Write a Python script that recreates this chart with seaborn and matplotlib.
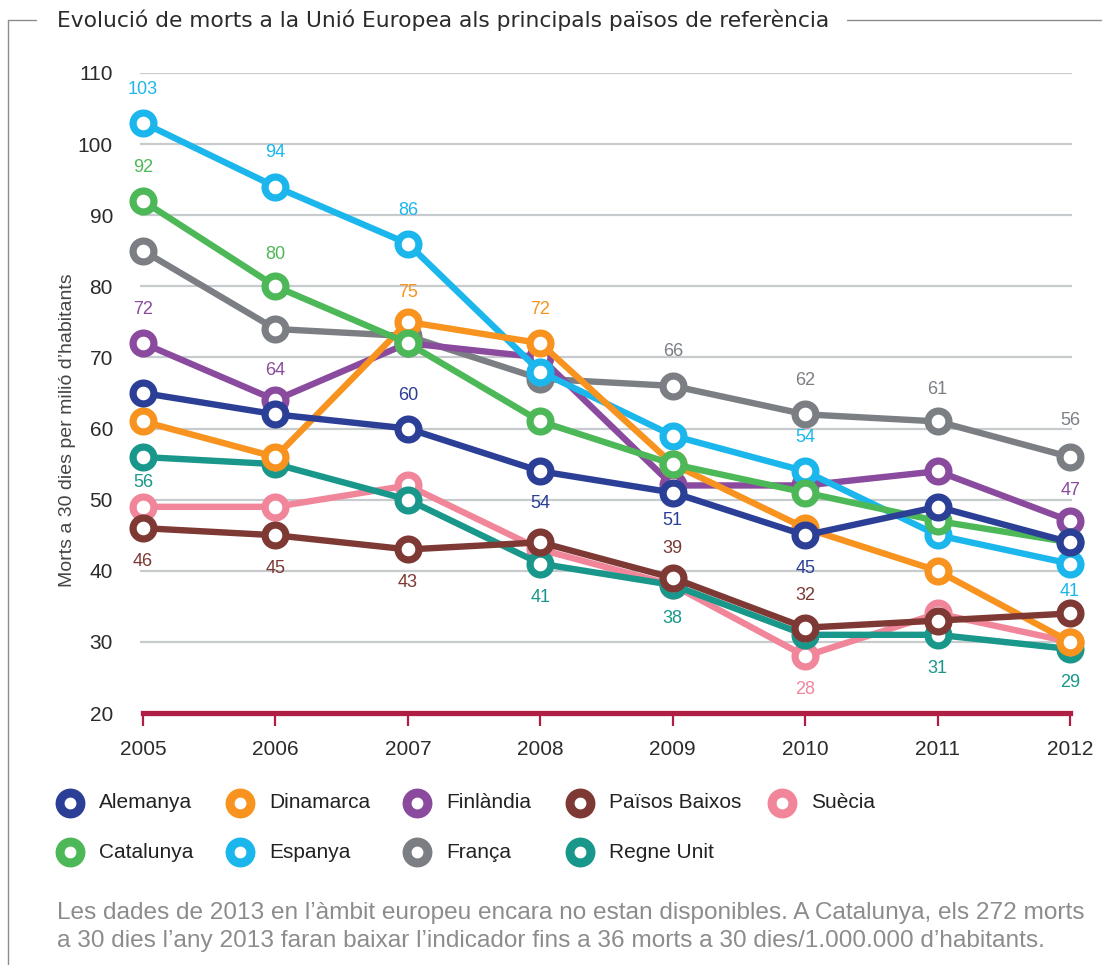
import matplotlib
matplotlib.use("Agg")
import matplotlib.pyplot as plt
import pandas as pd
import seaborn as sns
from matplotlib.lines import Line2D

# ---- data -----------------------------------------------------------------
years = [2005, 2006, 2007, 2008, 2009, 2010, 2011, 2012]

alemanya = [65, 62, 60, 54, 51, 45, 49, 44]
dinamarca = [61, 56, 75, 72, 55, 46, 40, 30]
finlandia = [72, 64, 72, 70, 52, 52, 54, 47]
paisos_baixos = [46, 45, 43, 44, 39, 32, 33, 34]
suecia = [49, 49, 52, 43, 38, 28, 34, 30]
catalunya = [92, 80, 72, 61, 55, 51, 47, 44]
espanya = [103, 94, 86, 68, 59, 54, 45, 41]
franca = [85, 74, 73, 67, 66, 62, 61, 56]
regne_unit = [56, 55, 50, 41, 38, 31, 31, 29]

countries = ["Alemanya", "Dinamarca", "Finlàndia", "Països Baixos", "Suècia",
             "Catalunya", "Espanya", "França", "Regne Unit"]
series = [alemanya, dinamarca, finlandia, paisos_baixos, suecia,
          catalunya, espanya, franca, regne_unit]

y_ticks = [20, 30, 40, 50, 60, 70, 80, 90, 100, 110]

title = "Evolució de morts a la Unió Europea als principals països de referència"
y_title = "Morts a 30 dies per milió d’habitants"
footnote = ("Les dades de 2013 en l’àmbit europeu encara no estan disponibles. A Catalunya, els 272 morts\n"
            "a 30 dies l’any 2013 faran baixar l’indicador fins a 36 morts a 30 dies/1.000.000 d’habitants.")

# ---- styling --------------------------------------------------------------
colors = {
    "Alemanya": "#2c3f97",
    "Dinamarca": "#f7931e",
    "Finlàndia": "#8a4a9e",
    "Països Baixos": "#7e3934",
    "Suècia": "#f1869a",
    "Catalunya": "#4db857",
    "Espanya": "#1bb6ec",
    "França": "#7b7f84",
    "Regne Unit": "#1a978b",
}
# drawing order (higher on top)
zorders = {"França": 3, "Finlàndia": 4, "Espanya": 5, "Suècia": 6, "Regne Unit": 7,
           "Dinamarca": 8, "Catalunya": 9, "Països Baixos": 10, "Alemanya": 11}

# labelled points: year -> vertical offset of the value text, in points
value_labels = {
    "Espanya": {2005: 24, 2006: 25, 2007: 24, 2010: 24, 2012: -20},
    "Catalunya": {2005: 24, 2006: 23},
    "Finlàndia": {2005: 24, 2006: 21, 2012: 22},
    "Dinamarca": {2007: 21, 2008: 24},
    "Alemanya": {2007: 24, 2008: -23, 2009: -20, 2010: -24},
    "Regne Unit": {2005: -18, 2008: -24, 2009: -24, 2011: -24, 2012: -24},
    "Països Baixos": {2005: -24, 2006: -24, 2007: -24, 2009: 21, 2010: 23},
    "Suècia": {2010: -24},
    "França": {2009: 25, 2010: 24, 2011: 23, 2012: 26},
}

SANS = ["Liberation Sans", "DejaVu Sans"]
CRIMSON = "#b01e45"
TEXT = "#2b2b2b"

sns.set_style("white")
plt.rcParams["font.family"] = SANS

df = pd.DataFrame({
    "any": years * len(countries),
    "valor": [v for s in series for v in s],
    "pais": [c for c in countries for _ in years],
})

fig = plt.figure(figsize=(11.18, 9.65), dpi=100)
ax = fig.add_axes([0.1252, 0.2611, 0.8337, 0.6633])

for name in countries:
    sub = df[df["pais"] == name]
    c = colors[name]
    sns.lineplot(data=sub, x="any", y="valor", ax=ax, color=c, linewidth=4.6,
                 marker="o", markersize=15, markerfacecolor="white",
                 markeredgecolor=c, markeredgewidth=5.2, zorder=zorders[name],
                 clip_on=False, legend=False)
    for yr, dy in value_labels.get(name, {}).items():
        v = sub.loc[sub["any"] == yr, "valor"].iloc[0]
        ax.annotate(f"{v:g}", (yr, v), xytext=(0, dy), textcoords="offset points",
                    ha="center", va="center", fontsize=13, color=c,
                    zorder=20, annotation_clip=False)

# axes cosmetics
ax.set_xlim(2004.977, 2012.015)
ax.set_ylim(20, 110)
ax.set_yticks(y_ticks)
ax.set_xticks(years)
ax.set_xticklabels([str(y) for y in years])
ax.set_xlabel("")
ax.set_ylabel("")
for yv in y_ticks[1:]:
    ax.axhline(yv, color="#c8cbcd", linewidth=1.6, zorder=1)
for side in ["left", "right", "top"]:
    ax.spines[side].set_visible(False)
ax.spines["bottom"].set_color(CRIMSON)
ax.spines["bottom"].set_linewidth(3.8)
ax.spines["bottom"].set_zorder(2)
ax.spines["bottom"].set_bounds(2005, 2012)
ax.spines["bottom"].set_capstyle("projecting")
ax.tick_params(axis="x", bottom=True, direction="out", length=9.5, width=1.6,
               color=CRIMSON, labelsize=15, labelcolor=TEXT, pad=10)
ax.tick_params(axis="y", left=False, length=0, labelsize=15, labelcolor=TEXT,
               pad=19.5)

fig.text(0.060, 0.554, y_title, rotation=90, ha="center", va="center",
         fontsize=14, color="#444444")

# header rule with title
rule = dict(color="#8c8c8c", lw=1.0)
fig.add_artist(Line2D([0.007, 0.007], [0.0, 0.979], **rule))
fig.add_artist(Line2D([0.007, 0.032], [0.979, 0.979], **rule))
fig.add_artist(Line2D([0.758, 0.985], [0.979, 0.979], **rule))
fig.text(0.051, 0.979, title, ha="left", va="center", fontsize=15.7,
         color=TEXT, family=["DejaVu Sans"])

# legend: five entries on the first row, four on the second
leg_x = [70, 240, 417, 580, 782]
leg_y = [803, 852]
W, H = 1118.0, 965.0
for i, name in enumerate(countries):
    row, col = divmod(i, 5)
    mx, my = leg_x[col] / W, 1 - leg_y[row] / H
    fig.add_artist(Line2D([mx], [my], linestyle="none", marker="o",
                          markersize=15, markerfacecolor="white",
                          markeredgecolor=colors[name], markeredgewidth=6.5))
    fig.text(mx + 29 / W, my, name, ha="left", va="center", fontsize=15,
             color="#222222")

fig.text(57 / W, 1 - 927 / H, footnote, ha="left", va="center", fontsize=17.6,
         color="#8c8c8c", linespacing=1.32)

fig.savefig("out.png", dpi=100)
